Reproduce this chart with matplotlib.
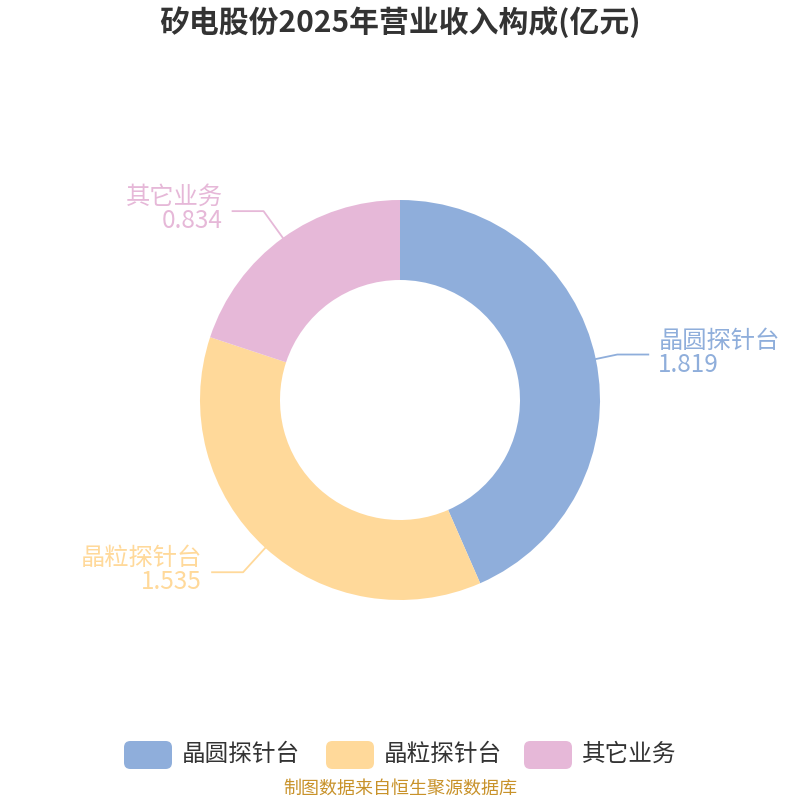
import numpy as np
import matplotlib
matplotlib.use("Agg")
import matplotlib.pyplot as plt
from matplotlib.patches import FancyBboxPatch

plt.rcParams['font.family'] = ['Noto Sans CJK SC', 'DejaVu Sans']

title = "矽电股份2025年营业收入构成(亿元)"
categories = ["晶圆探针台", "晶粒探针台", "其它业务"]
values = [1.819, 1.535, 0.834]
colors = ["#8FAEDB", "#FFD99A", "#E6B8D8"]
source = "制图数据来自恒生聚源数据库"

fig = plt.figure(figsize=(8, 8), dpi=100)
ax = fig.add_axes([0, 0, 1, 1])

wedges, _ = ax.pie(values, colors=colors, radius=200, startangle=90,
                   counterclock=False, wedgeprops=dict(width=80, linewidth=0))
ax.set_xlim(-400, 400)
ax.set_ylim(-400, 400)
ax.set_aspect("equal")
ax.axis("off")

# leader lines and labels
for w, cat, val, col in zip(wedges, categories, values, colors):
    ang = np.deg2rad((w.theta1 + w.theta2) / 2)
    x0, y0 = 200 * np.cos(ang), 200 * np.sin(ang)
    side = 1 if x0 > 0 else -1
    r1 = 222 if side > 0 else 233
    x1, y1 = r1 * np.cos(ang), r1 * np.sin(ang)
    x2 = x1 + side * 31
    ax.plot([x0, x1, x2], [y0, y1, y1], color=col, lw=1.3)
    ha = "left" if side > 0 else "right"
    tx = x2 + side * 10
    ax.text(tx, y1 + 14, cat, color=col, fontsize=17.5, ha=ha, va="center")
    ax.text(tx, y1 - 10, f"{val:.3f}", color=col, fontsize=17.5, ha=ha, va="center")

fig.text(0.5, 0.972, title, ha="center", va="center", fontsize=21.5,
         fontweight="bold", color="#333333")

# legend
leg_x = [124, 326, 524]
for lx, cat, col in zip(leg_x, categories, colors):
    p = FancyBboxPatch((lx / 800, 1 - 769 / 800), 48 / 800, 28 / 800,
                       boxstyle="round,pad=0,rounding_size=0.008",
                       transform=fig.transFigure, facecolor=col, edgecolor="none")
    fig.patches.append(p)
    fig.text((lx + 58) / 800, 1 - 754 / 800, cat, fontsize=17, color="#333333",
             ha="left", va="center")

fig.text(0.5, 1 - 789 / 800, source, ha="center", va="center", fontsize=13,
         color="#C8922A")

fig.savefig("out.png", dpi=100)
